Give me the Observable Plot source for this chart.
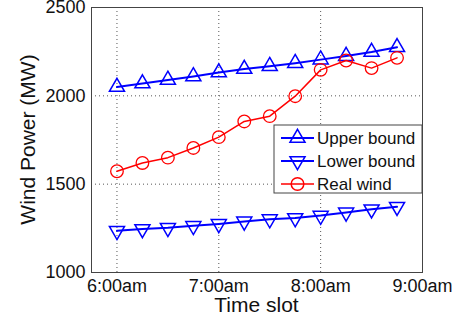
<!DOCTYPE html>
<html>
<head>
<meta charset="utf-8">
<script src="https://cdn.jsdelivr.net/npm/d3@7"></script>
<script src="https://cdn.jsdelivr.net/npm/@observablehq/plot@0.6"></script>
<style>
  html, body { margin: 0; padding: 0; background: #fff; }
  #chart { position: relative; width: 460px; height: 321px; }
</style>
</head>
<body>
<div id="chart"></div>
<script>
// ---- data ----
const times = ["6:00","6:15","6:30","6:45","7:00","7:15","7:30","7:45","8:00","8:15","8:30","8:45"];
const upperBound = [2050, 2070, 2090, 2110, 2132, 2152, 2168, 2185, 2205, 2225, 2248, 2275];
const lowerBound = [1236, 1246, 1253, 1264, 1275, 1289, 1302, 1308, 1322, 1340, 1358, 1372];
const realWind   = [1573, 1620, 1650, 1705, 1766, 1855, 1885, 1998, 2147, 2200, 2157, 2215];
const seriesNames = ["Upper bound", "Lower bound", "Real wind"];
const xTicks = ["6:00","7:00","8:00","9:00"];
const xTickLabels = ["6:00am","7:00am","8:00am","9:00am"];
const yTicks = [1000, 1500, 2000, 2500];
const xLabel = "Time slot";
const yLabel = "Wind Power (MW)";

const toHours = s => { const [h, m] = s.split(":").map(Number); return h + m / 60; };

const rows = times.map((t, i) => ({
  t: toHours(t), upper: upperBound[i], lower: lowerBound[i], real: realWind[i]
}));
const xTickVals = xTicks.map(toHours);
const tickLabelOf = new Map(xTickVals.map((v, i) => [v, xTickLabels[i]]));

// custom triangle symbols (centroid-centered)
const triUp = { draw(ctx, size) {
  const y = Math.sqrt(size / (3 * Math.sqrt(3)));
  ctx.moveTo(0, -2 * y); ctx.lineTo(Math.sqrt(3) * y, y); ctx.lineTo(-Math.sqrt(3) * y, y); ctx.closePath();
}};
const triDown = { draw(ctx, size) {
  const y = Math.sqrt(size / (3 * Math.sqrt(3)));
  ctx.moveTo(0, 2 * y); ctx.lineTo(Math.sqrt(3) * y, -y); ctx.lineTo(-Math.sqrt(3) * y, -y); ctx.closePath();
}};

const BLUE = "#0000ff", RED = "#ff0000";
const font = "'Liberation Sans', Arial, Helvetica, sans-serif";

const W = 460, H = 321, mL = 91, mR = 38, mT = 7, mB = 49;

const chart = Plot.plot({
  width: W, height: H,
  marginLeft: mL, marginRight: mR, marginTop: mT, marginBottom: mB,
  style: { fontFamily: font, background: "#fff", overflow: "visible" },
  x: { domain: [5.75, 9] },
  y: { domain: [1000, 2500] },
  marks: [
    Plot.gridX(xTickVals.slice(0, 3), { stroke: "#555", strokeOpacity: 1, strokeDasharray: "1,3", strokeWidth: 1 }),
    Plot.gridY(yTicks.slice(1, 3), { stroke: "#555", strokeOpacity: 1, strokeDasharray: "1,3", strokeWidth: 1 }),
    Plot.axisX(xTickVals, { tickSize: 0, tickPadding: 7, fontSize: 18, tickFormat: v => tickLabelOf.get(v), label: null, fill: "#111" }),
    Plot.axisY(yTicks, { tickSize: 0, tickPadding: 6, fontSize: 18, tickFormat: v => String(v), label: null, fill: "#111" }),
    Plot.frame({ stroke: "#444", strokeWidth: 1 }),
    Plot.line(rows, { x: "t", y: "upper", stroke: BLUE, strokeWidth: 2 }),
    Plot.dot(rows, { x: "t", y: "upper", symbol: triUp, r: 5.6, stroke: BLUE, fill: "none", strokeWidth: 1.5 }),
    Plot.line(rows, { x: "t", y: "lower", stroke: BLUE, strokeWidth: 2 }),
    Plot.dot(rows, { x: "t", y: "lower", symbol: triDown, r: 5.6, stroke: BLUE, fill: "none", strokeWidth: 1.5 }),
    Plot.line(rows, { x: "t", y: "real", stroke: RED, strokeWidth: 1.5 }),
    Plot.dot(rows, { x: "t", y: "real", r: 6.3, stroke: RED, fill: "none", strokeWidth: 1.3 })
  ]
});

document.getElementById("chart").appendChild(chart);

// axis labels and legend
const svg = d3.select(chart);
svg.append("text")
  .attr("x", mL + (W - mL - mR) / 2).attr("y", 312)
  .attr("text-anchor", "middle").attr("font-size", 21).attr("font-family", font).attr("fill", "#111")
  .text(xLabel);
svg.append("text")
  .attr("transform", `translate(35,${mT + (H - mT - mB) / 2}) rotate(-90)`)
  .attr("text-anchor", "middle").attr("font-size", 21).attr("font-family", font).attr("fill", "#111")
  .text(yLabel);

const lg = svg.append("g").attr("font-family", font).attr("text-anchor", "start");
const lx = 274, ly = 125, lw = W - mR - lx, lh = 68;
lg.append("rect").attr("x", lx).attr("y", ly).attr("width", lw).attr("height", lh)
  .attr("fill", "#fff").attr("stroke", "#444").attr("stroke-width", 1);
const legendStyle = [
  { color: BLUE, sym: triUp, size: 5.6 * 5.6 * Math.PI, lw: 2 },
  { color: BLUE, sym: triDown, size: 5.6 * 5.6 * Math.PI, lw: 2 },
  { color: RED, sym: d3.symbolCircle, size: 6.3 * 6.3 * Math.PI, lw: 1.5 }
];
seriesNames.forEach((name, i) => {
  const y = 138 + i * 23;
  const s = legendStyle[i];
  lg.append("line").attr("x1", 281).attr("x2", 314).attr("y1", y).attr("y2", y)
    .attr("stroke", s.color).attr("stroke-width", s.lw);
  lg.append("path").attr("d", d3.symbol(s.sym, s.size)()).attr("transform", `translate(297.5,${y})`)
    .attr("fill", "none").attr("stroke", s.color).attr("stroke-width", 1.5);
  lg.append("text").attr("x", 317).attr("y", y).attr("dy", "0.36em").attr("text-anchor", "start")
    .attr("font-size", 17).attr("fill", "#111").text(name);
});
</script>
</body>
</html>
